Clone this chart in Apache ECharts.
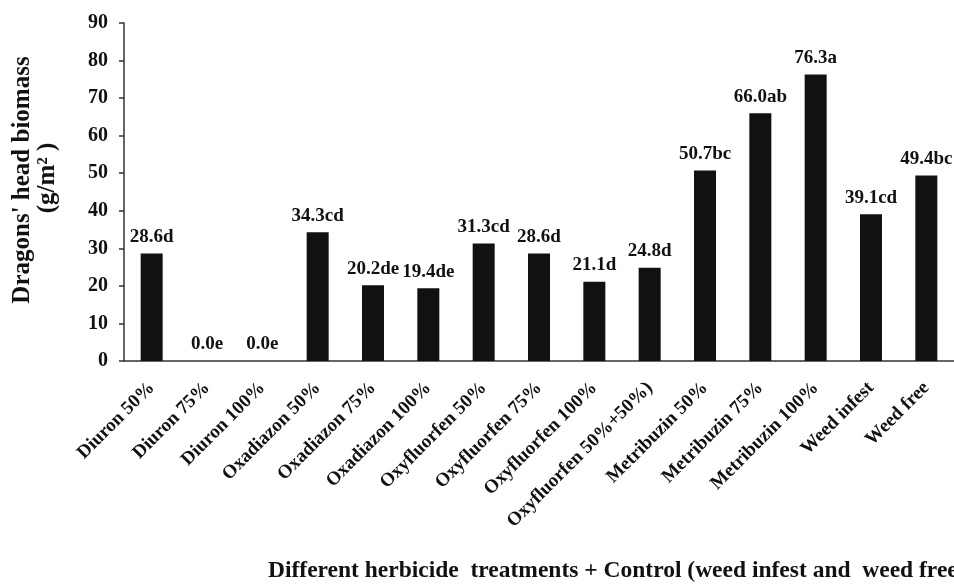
<!DOCTYPE html>
<html><head><meta charset="utf-8">
<script src="https://cdn.jsdelivr.net/npm/echarts@6/dist/echarts.min.js"></script>
<style>html,body{margin:0;padding:0;background:#fff}#c{width:954px;height:588px}</style>
</head><body><div id="c"></div>
<script>
const categories = ["Diuron 50%","Diuron 75%","Diuron 100%","Oxadiazon 50%","Oxadiazon 75%","Oxadiazon 100%","Oxyfluorfen 50%","Oxyfluorfen 75%","Oxyfluorfen 100%","Oxyfluorfen 50%+50%)","Metribuzin 50%","Metribuzin 75%","Metribuzin 100%","Weed infest","Weed free"];
const values = [28.6,0.0,0.0,34.3,20.2,19.4,31.3,28.6,21.1,24.8,50.7,66.0,76.3,39.1,49.4];
const letters = ["d","e","e","cd","de","de","cd","d","d","d","bc","ab","a","cd","bc"];
const yTicks = [0,10,20,30,40,50,60,70,80,90];

const font = "'Liberation Serif','Times New Roman',serif";
const chart = echarts.init(document.getElementById('c'), null, {renderer:'canvas'});
chart.setOption({
  animation:false,
  backgroundColor:'#fff',
  grid:{left:124,right:0,top:23,bottom:227,containLabel:false},
  xAxis:{type:'category',data:categories,
    axisLine:{lineStyle:{color:'#333',width:1.5}},
    axisTick:{show:false},
    axisLabel:{rotate:45,interval:0,margin:24,color:'#111',fontFamily:font,fontWeight:'bold',fontSize:19}
  },
  yAxis:{type:'value',min:yTicks[0],max:yTicks[yTicks.length-1],interval:10,
    axisLine:{show:true,lineStyle:{color:'#333',width:1.5}},
    axisTick:{show:true,length:5,lineStyle:{color:'#333',width:1.5}},
    splitLine:{show:false},
    axisLabel:{margin:16,color:'#111',fontFamily:font,fontWeight:'bold',fontSize:20}
  },
  series:[{type:'bar',data:values,barWidth:22,itemStyle:{color:'#111'},
    label:{show:true,position:'top',distance:7,color:'#111',fontFamily:font,fontWeight:'bold',fontSize:19,
      formatter:p=>p.value.toFixed(1)+letters[p.dataIndex]}
  }],
  graphic:[
    {type:'text',left:268,top:559,style:{text:'Different herbicide  treatments + Control (weed infest and  weed free)',font:"bold 23.5px "+font,fill:'#111'}},
    {type:'group',x:23,y:180,rotation:Math.PI/2,children:[
      {type:'text',x:0,y:0,style:{text:"Dragons' head biomass",font:"bold 25px "+font,fill:'#111',align:'center',verticalAlign:'middle'}}
    ]},
    {type:'group',x:48,y:178,rotation:Math.PI/2,children:[
      {type:'text',x:0,y:0,style:{text:"(g/m\u00B2 )",font:"bold 25px "+font,fill:'#111',align:'center',verticalAlign:'middle'}}
    ]}
  ]
});
</script></body></html>
